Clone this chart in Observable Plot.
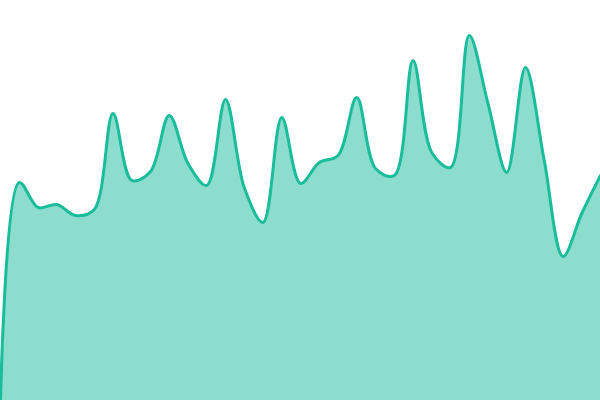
<!DOCTYPE html>
<html>
<head>
<meta charset="utf-8">
<script src="https://cdn.jsdelivr.net/npm/d3@7"></script>
<script src="https://cdn.jsdelivr.net/npm/@observablehq/plot@0.6"></script>
<style>
  html, body { margin: 0; padding: 0; background: #fff; }
  #chart svg { display: block; }
</style>
</head>
<body>
<div id="chart"></div>
<script>
const indices = d3.range(33);
const values = [0, 54.5, 48.25, 49, 46.25, 47.75, 71.75, 55, 57.25, 71.25, 59.25, 53.75, 75.25, 53.25, 44.5, 70.75, 54.25, 59.5, 61.25, 75.75, 58, 56.25, 85, 62, 58.25, 91.25, 74.25, 57, 83.25, 60, 36, 46.75, 56.25];

const data = indices.map((i) => ({x: i, y: values[i]}));

const chart = Plot.plot({
  width: 600,
  height: 400,
  margin: 0,
  x: {domain: [0, 32], axis: null},
  y: {domain: [0, 100], axis: null},
  marks: [
    Plot.areaY(data, {x: "x", y: "y", curve: "catmull-rom", fill: "#1abc9c", fillOpacity: 0.5}),
    Plot.lineY(data, {x: "x", y: "y", curve: "catmull-rom", stroke: "#1abc9c", strokeWidth: 3})
  ]
});
document.getElementById("chart").appendChild(chart);
</script>
</body>
</html>
